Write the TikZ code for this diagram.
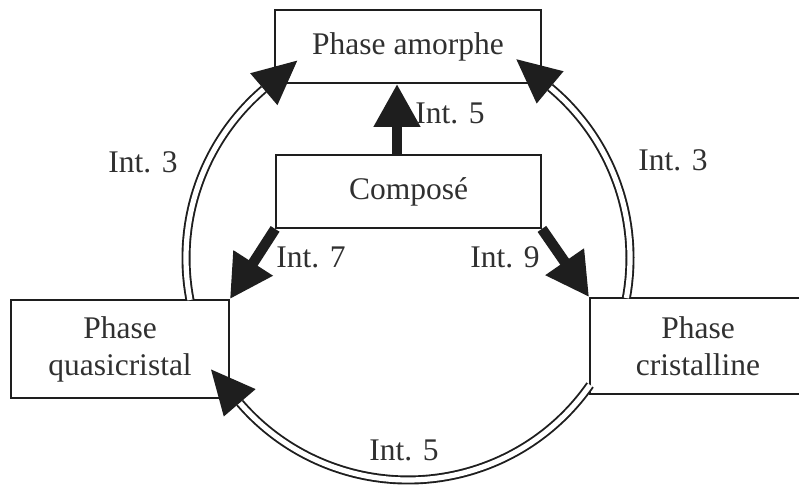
\documentclass[tikz,border=0pt]{standalone}
\usepackage{fontspec}
\setmainfont{Liberation Serif}
\usetikzlibrary{arrows.meta}
\definecolor{linec}{HTML}{1E1E1E}
\definecolor{textc}{HTML}{303030}
\begin{document}
\begin{tikzpicture}[x=1pt,y=1pt,
  box/.style={draw=linec, line width=1.8pt, inner sep=0pt, align=center,
    font=\fontsize{31.5}{37}\selectfont, text=textc},
  lbl/.style={inner sep=0pt, font=\fontsize{31.5}{37}\selectfont, text=textc},
  dbl/.style={draw=linec, line width=1.9pt, double=white, double distance=5.2pt},
  thickarr/.style={draw=linec, line width=10.5pt, -{Triangle[length=43pt,width=44pt]}},
  headc/.style={fill=linec}]
\useasboundingbox (0,0) rectangle (799,484);
% boxes
\node[box, minimum width=266pt, minimum height=73pt] (amo) at (408,437.5) {Phase amorphe};
\node[box, minimum width=265pt, minimum height=73pt] (comp) at (408.5,292.5) {Composé};
\node[box, minimum width=218pt, minimum height=98pt] (quasi) at (120,135) {Phase\\quasicristal};
\node[box, minimum width=216pt, minimum height=96pt] (crist) at (698,138) {Phase\\cristalline};
% circle arcs (double lines)
\coordinate (cc) at (408,226);
\draw[dbl] (cc) ++(190.9:222) arc (190.9:130.5:222);
\draw[dbl] (cc) ++(-10.4:222) arc (-10.4:50.2:222);
\draw[dbl] (cc) ++(-34.9:222) arc (-34.9:-139.3:222);
% arc arrow heads
\fill[headc, shift={(263.8,394.8)}, rotate=40.5] (44,0) -- (0,21) -- (0,-21) -- cycle;
\fill[headc, shift={(550.1,396.6)}, rotate=140.2] (44,0) -- (0,21) -- (0,-21) -- cycle;
\fill[headc, shift={(239.7,81.2)}, rotate=130.7] (44,0) -- (0,21) -- (0,-21) -- cycle;
% thick arrows
\coordinate (x5) at (397,0);
\draw[thickarr] (x5 |- comp.north) -- (x5 |- amo.south);
\draw[thickarr] (comp.south west) -- (quasi.north east);
\draw[thickarr] (comp.south east) -- (crist.north west);
% labels
\node[lbl] (l3a) at (143,322) {Int. 3};
\node[lbl] (l3b) at (673,324) {Int. 3};
\node[lbl] (l5a) at (450,371) {Int. 5};
\node[lbl] (l7) at (311,227) {Int. 7};
\node[lbl] (l9) at (505,227) {Int. 9};
\node[lbl] (l5b) at (404,34) {Int. 5};
\end{tikzpicture}
\end{document}
